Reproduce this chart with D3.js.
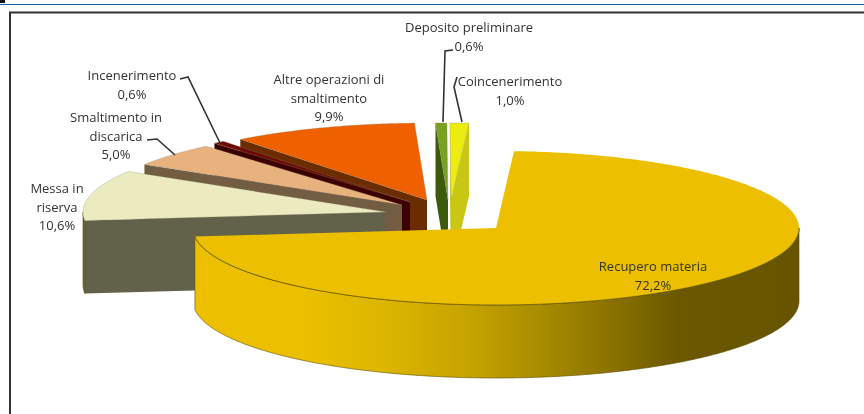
<!DOCTYPE html>
<html><head><meta charset="utf-8">
<script src="https://cdn.jsdelivr.net/npm/d3@7"></script>
<style>html,body{margin:0;padding:0;background:#fff}svg{display:block;filter:blur(.5px)}text{font-family:"Open Sans",sans-serif;font-size:13px;fill:#333;text-anchor:middle}</style>
</head><body><svg id="c" width="864" height="414"></svg>
<script>
const categories=["Recupero materia","Messa in riserva","Smaltimento in discarica","Incenerimento","Altre operazioni di smaltimento","Deposito preliminare","Coincenerimento"];
const shares=[72.2,10.6,5.0,0.6,9.9,0.6,1.0];
const shareLabels=["72,2%","10,6%","5,0%","0,6%","9,9%","0,6%","1,0%"];
const topColors=["#ecc000","#ecebc0","#e8b27e","#6e0a04","#ee6000","#7aa020","#ecec10"];
const faceColors=["#6b5800","#62624a","#725c42","#3c0000","#6b2c00","#3c5a0c","#c8c814"];
const explodeX=[0,-110,-94,-86,-69,-48,-45];
const explodeY=[0,-16,-23,-26,-28,-28,-28];
const paintOrder=[4,3,2,1,5,6,0];
const labelLines=[["Recupero materia"],["Messa in","riserva"],["Smaltimento in","discarica"],["Incenerimento"],["Altre operazioni di","smaltimento"],["Deposito preliminare"],["Coincenerimento"]];
const labelX=[653,57,116,132,329,469,510];
const labelY=[271,193,122,80,84,32,86];
const leaders=[[[180,79],[188,77],[220,143]],[[147,140],[157,139],[175,155]],[[453,50],[445,51],[443,122]],[[457,77],[454,87],[462,122]]];
const wallStops=[[0,"#ecc000"],[.18,"#ecc000"],[.31,"#dcb600"],[.445,"#c8a500"],[.584,"#a58a00"],[.69,"#8a7200"],[.8,"#6b5800"],[1,"#665400"]];

const svg=d3.select("#c");
const cx=496,cy=228,rx=303,ry=77,depth=73;
const sx=d3.scaleLinear().domain([-1,1]).range([cx-rx,cx+rx]);
const sy=d3.scaleLinear().domain([-1,1]).range([cy-ry,cy+ry]);
const line=d3.line().x(d=>d[0]).y(d=>d[1]);
const startA=3.4*Math.PI/180;
const arcs=d3.pie().sort(null).startAngle(startA).endAngle(startA+2*Math.PI)(shares);

// page furniture
svg.append("rect").attr("width",5).attr("height",3).attr("fill","#111");
svg.append("line").attr("x1",0).attr("x2",864).attr("y1",4.5).attr("y2",4.5).attr("stroke","#1f5fa8").attr("stroke-width",1);
svg.append("path").attr("d","M864,12.5H10V414").attr("fill","none").attr("stroke","#333").attr("stroke-width",2);

const g=svg.append("defs").append("linearGradient").attr("id","wall").attr("gradientUnits","userSpaceOnUse")
  .attr("x1",sx(-1)).attr("x2",sx(1)).attr("y1",0).attr("y2",0);
wallStops.forEach(s=>g.append("stop").attr("offset",s[0]).attr("stop-color",s[1]));

function pt(a,i,dz=0){return [sx(Math.sin(a))+explodeX[i],sy(-Math.cos(a))+explodeY[i]+dz];}
function sample(a0,a1,i,dz=0){const n=Math.max(2,Math.ceil((a1-a0)*120));return d3.range(n+1).map(k=>pt(a0+(a1-a0)*k/n,i,dz));}
function apex(i,dz=0){return [sx(0)+explodeX[i],sy(0)+explodeY[i]+dz];}

paintOrder.forEach(i=>{
  const a=arcs[i],s=a.startAngle,e=a.endAngle,layer=svg.append("g");
  const face=ang=>{const p=pt(ang,i);
    layer.append("path").attr("d",line([apex(i),p,pt(ang,i,depth),apex(i,depth)])+"Z").attr("fill",faceColors[i]);};
  if(Math.sin(s)<0)face(s);
  if(Math.sin(e)>0)face(e);
  const w0=Math.max(s,Math.PI/2),w1=Math.min(e,1.5*Math.PI);
  if(w1>w0){
    const top=sample(w0,w1,i),bot=sample(w0,w1,i,depth).reverse();
    layer.append("path").attr("d",line(top.concat(bot))+"Z").attr("fill",i===0?"url(#wall)":faceColors[i]).attr("stroke","#5c4c00").attr("stroke-width",.6);
  }
  layer.append("path").attr("d",line([apex(i)].concat(sample(s,e,i)))+"Z").attr("fill",topColors[i]).attr("stroke",i===0?"none":"#8a8a70").attr("stroke-width",i===0?0:.3);
  if(i===0&&w1>w0)layer.append("path").attr("d",line(sample(w0,w1,i))).attr("fill","none").attr("stroke","#5c4c00").attr("stroke-width",.7);
});

leaders.forEach(l=>svg.append("path").attr("d",line(l)).attr("fill","none").attr("stroke","#333").attr("stroke-width",1.6));

categories.forEach((c,i)=>{
  const lines=labelLines[i].concat(shareLabels[i]);
  lines.forEach((t,k)=>svg.append("text").attr("x",labelX[i]).attr("y",labelY[i]+k*18.5).text(t));
});
</script></body></html>
